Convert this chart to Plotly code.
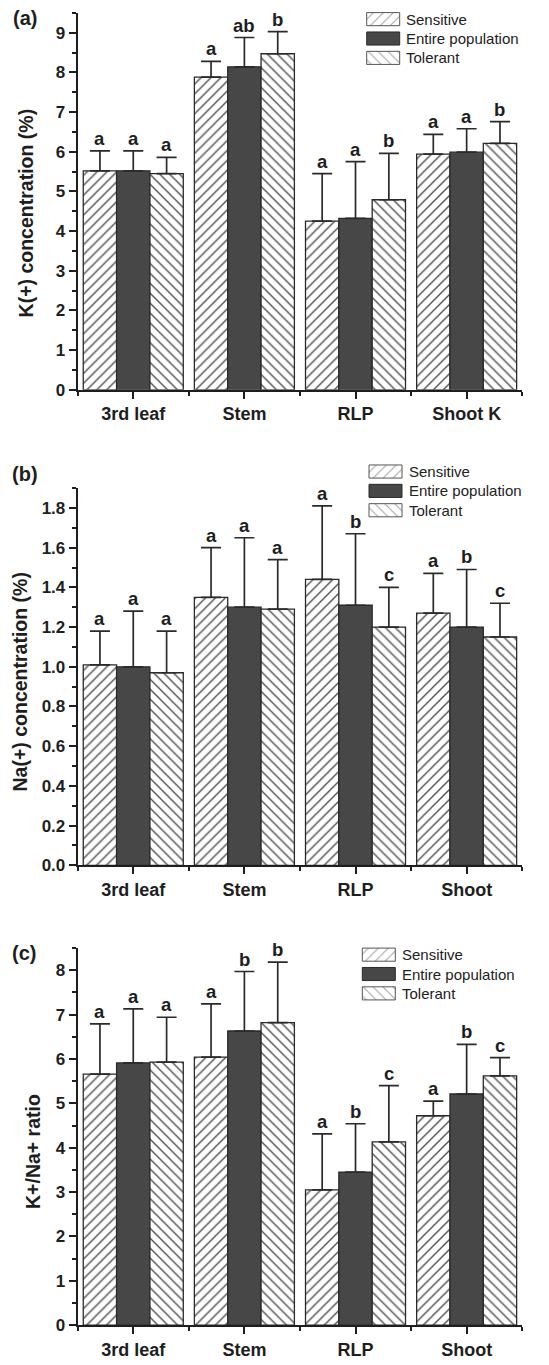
import plotly.graph_objects as go

# ---------------------------------------------------------------- data
groups = ["Sensitive", "Entire population", "Tolerant"]

categories_k = ["3rd leaf", "Stem", "RLP", "Shoot K"]
categories_na = ["3rd leaf", "Stem", "RLP", "Shoot"]
categories_ratio = ["3rd leaf", "Stem", "RLP", "Shoot"]

# (a) K+ concentration (%): mean and upper error (SD)
k_sensitive = [5.52, 7.88, 4.25, 5.94]
k_sensitive_sd = [0.50, 0.40, 1.20, 0.50]
k_entire = [5.52, 8.14, 4.32, 5.99]
k_entire_sd = [0.50, 0.74, 1.43, 0.59]
k_tolerant = [5.45, 8.47, 4.79, 6.21]
k_tolerant_sd = [0.41, 0.56, 1.17, 0.55]
k_letters = [["a", "a", "a", "a"], ["a", "ab", "a", "a"], ["a", "b", "b", "b"]]

# (b) Na+ concentration (%)
na_sensitive = [1.01, 1.35, 1.44, 1.27]
na_sensitive_sd = [0.17, 0.25, 0.37, 0.20]
na_entire = [1.00, 1.30, 1.31, 1.20]
na_entire_sd = [0.28, 0.35, 0.36, 0.29]
na_tolerant = [0.97, 1.29, 1.20, 1.15]
na_tolerant_sd = [0.21, 0.25, 0.20, 0.17]
na_letters = [["a", "a", "a", "a"], ["a", "a", "b", "b"], ["a", "a", "c", "c"]]

# (c) K+/Na+ ratio
ratio_sensitive = [5.66, 6.04, 3.05, 4.72]
ratio_sensitive_sd = [1.13, 1.20, 1.26, 0.33]
ratio_entire = [5.91, 6.63, 3.45, 5.21]
ratio_entire_sd = [1.22, 1.34, 1.09, 1.12]
ratio_tolerant = [5.93, 6.82, 4.13, 5.62]
ratio_tolerant_sd = [1.01, 1.36, 1.27, 0.41]
ratio_letters = [["a", "a", "a", "a"], ["a", "b", "b", "b"], ["a", "b", "c", "c"]]

# ---------------------------------------------------------------- style
W, H = 549, 1365
BOLD = "Liberation Sans, Arial, sans-serif"
INK = "#1e1e1e"
OUTLINE = "#2a2a2a"
HATCH = "#505050"
DARK = "#474747"

group_style = [
    dict(color="white", pattern=dict(shape="/", fgcolor=HATCH, bgcolor="white",
                                     size=7, solidity=0.2, fillmode="replace")),
    dict(color=DARK),
    dict(color="white", pattern=dict(shape="\\", fgcolor=HATCH, bgcolor="white",
                                     size=7, solidity=0.2, fillmode="replace")),
]
legend_pattern = ["/", None, "\\"]

PLOT_X0, PLOT_X1 = 77.7, 522.2


def px_x(v):
    return v / W


def px_y(v):
    return 1 - v / H


panels = [
    dict(cats=categories_k,
         means=[k_sensitive, k_entire, k_tolerant],
         sds=[k_sensitive_sd, k_entire_sd, k_tolerant_sd],
         letters=k_letters,
         top=13.0, bottom=392.7, ymax=9.5, dtick=1, minor=0.5, fmt="d",
         title="K(+) concentration (%)", title_xy=(26, 215),
         tag="(a)", tag_xy=(25, 18), legend_xy=(366.7, 19.3, 404)),
    dict(cats=categories_na,
         means=[na_sensitive, na_entire, na_tolerant],
         sds=[na_sensitive_sd, na_entire_sd, na_tolerant_sd],
         letters=na_letters,
         top=491.7, bottom=871.7, ymax=1.9, dtick=0.2, minor=0.1, fmt=".1f",
         title="Na(+) concentration (%)", title_xy=(19.5, 687),
         tag="(b)", tag_xy=(25, 478), legend_xy=(369.0, 475.0, 407)),
    dict(cats=categories_ratio,
         means=[ratio_sensitive, ratio_entire, ratio_tolerant],
         sds=[ratio_sensitive_sd, ratio_entire_sd, ratio_tolerant_sd],
         letters=ratio_letters,
         top=955.0, bottom=1335.0, ymax=8.5, dtick=1, minor=0.5, fmt="d",
         title="K+/Na+ ratio", title_xy=(32.5, 1160),
         tag="(c)", tag_xy=(24, 960), legend_xy=(362.3, 961.7, 400)),
]

fig = go.Figure()
annotations = []
layout_axes = {}

for p_i, p in enumerate(panels):
    suffix = "" if p_i == 0 else str(p_i + 1)
    xa, ya = "x" + suffix, "y" + suffix
    xs = list(range(len(p["cats"])))

    for g_i, g in enumerate(groups):
        sd = p["sds"][g_i]
        fig.add_trace(go.Bar(
            x=xs, y=p["means"][g_i], name=g, xaxis=xa, yaxis=ya,
            showlegend=False,
            marker=dict(line=dict(color=OUTLINE, width=1.3), **group_style[g_i]),
            error_y=dict(type="data", array=sd, arrayminus=[0] * len(sd),
                         symmetric=False, color="#2a2a2a", thickness=1.7, width=10),
        ))
        # significance letters sit on top of the error bars
        for c_i in xs:
            annotations.append(dict(
                x=c_i + (g_i - 1) * 0.3, y=p["means"][g_i][c_i] + sd[c_i],
                xref=xa, yref=ya, text=p["letters"][g_i][c_i], showarrow=False,
                yanchor="bottom", xanchor="center", yshift=0,
                font=dict(family=BOLD, size=18.5, color=INK, weight="bold")))

    axis_common = dict(showline=True, linecolor=INK, linewidth=2, showgrid=False,
                       zeroline=False, ticks="outside", tickcolor=INK, tickwidth=2,
                       fixedrange=True)
    layout_axes["xaxis" + suffix] = dict(
        axis_common, anchor=ya, domain=[px_x(PLOT_X0), px_x(PLOT_X1)],
        range=[-0.5, len(xs) - 0.5], tickmode="array", tickvals=xs,
        ticktext=p["cats"], ticklen=7,
        tickfont=dict(family=BOLD, size=18, color=INK, weight="bold"),
        minor=dict(ticks="outside", tick0=0.5, dtick=1, ticklen=4,
                   tickwidth=1.5, tickcolor=INK))
    layout_axes["yaxis" + suffix] = dict(
        axis_common, anchor=xa, domain=[px_y(p["bottom"]), px_y(p["top"])],
        range=[0, p["ymax"]], tick0=0, dtick=p["dtick"], tickformat=p["fmt"],
        ticklen=7,
        tickfont=dict(family=BOLD, size=17, color=INK, weight="bold"),
        minor=dict(ticks="outside", tick0=0, dtick=p["minor"], ticklen=4,
                   tickwidth=1.5, tickcolor=INK))

    # y axis title
    annotations.append(dict(
        x=px_x(p["title_xy"][0]), y=px_y(p["title_xy"][1]), xref="paper", yref="paper",
        text=p["title"], textangle=-90, showarrow=False,
        xanchor="center", yanchor="middle",
        font=dict(family=BOLD, size=19.5, color=INK, weight="bold")))
    # panel tag
    annotations.append(dict(
        x=px_x(p["tag_xy"][0]), y=px_y(p["tag_xy"][1]), xref="paper", yref="paper",
        text=p["tag"], showarrow=False, xanchor="center", yanchor="middle",
        font=dict(family=BOLD, size=20, color=INK, weight="bold")))

    # legend: patterned swatches drawn on a full-page pixel overlay
    lx, ly, tx = p["legend_xy"]
    for g_i, g in enumerate(groups):
        cy = ly + g_i * 19.5
        x0, x1 = lx, lx + 33
        y0, y1 = cy - 6.6, cy + 6.6
        shape = legend_pattern[g_i]
        swatch = dict(
            x=[x0, x1, x1, x0, x0], y=[y0, y0, y1, y1, y0],
            xaxis="x4", yaxis="y4", mode="lines", fill="toself",
            line=dict(color="#555555" if shape else OUTLINE, width=1),
            showlegend=False, hoverinfo="skip")
        if shape:
            swatch["fillcolor"] = "white"
            swatch["fillpattern"] = dict(shape=shape, fgcolor=HATCH, bgcolor="white",
                                         size=7, solidity=0.16)
        else:
            swatch["fillcolor"] = DARK
        fig.add_trace(go.Scatter(**swatch))
        annotations.append(dict(
            x=px_x(tx), y=px_y(cy), xref="paper", yref="paper", text=g,
            showarrow=False, xanchor="left", yanchor="middle",
            font=dict(family="Liberation Sans, Arial, sans-serif", size=15, color="#222")))

layout_axes["xaxis4"] = dict(domain=[0, 1], range=[0, W], visible=False,
                             anchor="y4", fixedrange=True)
layout_axes["yaxis4"] = dict(domain=[0, 1], range=[H, 0], visible=False,
                             anchor="x4", fixedrange=True)

fig.update_layout(
    width=W, height=H, autosize=False,
    margin=dict(l=0, r=0, t=0, b=0),
    paper_bgcolor="white", plot_bgcolor="rgba(0,0,0,0)",
    barmode="group", bargap=0.1, bargroupgap=0,
    showlegend=False, annotations=annotations,
    **layout_axes,
)

fig.write_html("out.html")
